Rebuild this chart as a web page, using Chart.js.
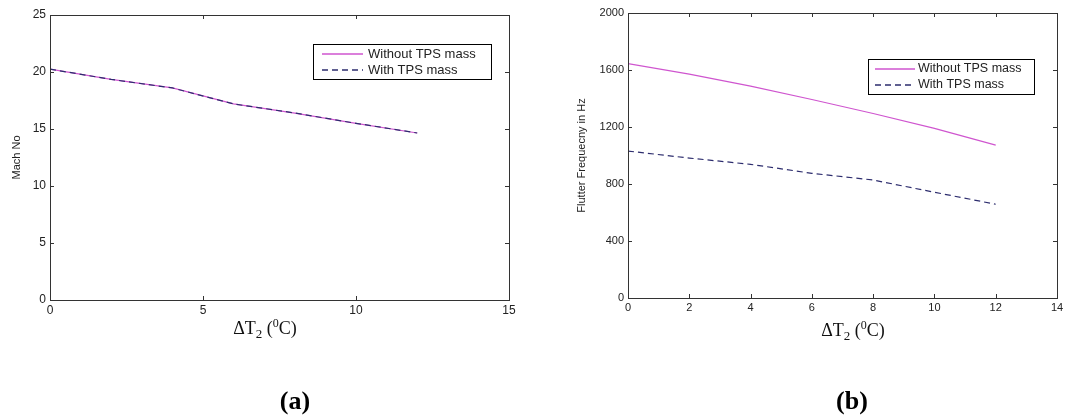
<!DOCTYPE html>
<html>
<head>
<meta charset="utf-8">
<script src="https://cdn.jsdelivr.net/npm/chart.js@4.4.1/dist/chart.umd.min.js"></script>
<style>
  body { margin: 0; background: #fff; width: 1087px; height: 418px; position: relative; overflow: hidden; }
  canvas { position: absolute; top: 0; }
  .xtitle { position: absolute; font-family: "Liberation Serif", "Times New Roman", serif; font-size: 18px; line-height: 20px; white-space: nowrap; transform: translateX(-50%); color: #111; }
  .xtitle .sub { font-size: 13px; position: relative; top: 4px; }
  .xtitle .sup { font-size: 12px; position: relative; top: -7px; }
  .caption { position: absolute; font-family: "Liberation Serif", "Times New Roman", serif; font-weight: bold; font-size: 26px; line-height: 30px; transform: translateX(-50%); color: #000; }
</style>
</head>
<body>
<canvas id="mach_graph" width="540" height="345" style="left:0px"></canvas>
<canvas id="freq_graph" width="547" height="345" style="left:540px"></canvas>
<div class="xtitle" style="left:265px; top:318px">&Delta;T<span class="sub">2</span> (<span class="sup">0</span>C)</div>
<div class="xtitle" style="left:853px; top:320px">&Delta;T<span class="sub">2</span> (<span class="sup">0</span>C)</div>
<div class="caption" style="left:295px; top:386px">(a)</div>
<div class="caption" style="left:852px; top:386px">(b)</div>
<script>
// temperature difference steps (deg C)
const deltaT = [0, 2, 4, 6, 8, 10, 12];

// (a) flutter Mach number
const machWithout = [20.25, 19.35, 18.6, 17.2, 16.4, 15.5, 14.65];
const machWith = [20.25, 19.35, 18.6, 17.2, 16.4, 15.5, 14.65];

// (b) flutter frequency in Hz
const freqWithout = [1645, 1571, 1487, 1393, 1295, 1190, 1073];
const freqWith = [1031, 982, 938, 875, 828, 742, 658];

const seriesNames = ['Without TPS mass', 'With TPS mass'];

const tickFont = { family: 'Liberation Sans, Arial, sans-serif', size: 12 };

// box around the plot with inward tick marks on all four sides
const frameTicks = {
  id: 'frameTicks',
  afterDatasetsDraw(chart) {
    const { ctx, chartArea: a, scales } = chart;
    ctx.save();
    ctx.strokeStyle = '#333';
    ctx.lineWidth = 1;
    ctx.strokeRect(a.left + 0.5, a.top + 0.5, a.right - a.left, a.bottom - a.top);
    ctx.beginPath();
    scales.x.ticks.forEach(t => {
      const px = Math.round(scales.x.getPixelForValue(t.value)) + 0.5;
      ctx.moveTo(px, a.bottom); ctx.lineTo(px, a.bottom - 4);
      ctx.moveTo(px, a.top); ctx.lineTo(px, a.top + 4);
    });
    scales.y.ticks.forEach(t => {
      const py = Math.round(scales.y.getPixelForValue(t.value)) + 0.5;
      ctx.moveTo(a.left, py); ctx.lineTo(a.left + 4, py);
      ctx.moveTo(a.right, py); ctx.lineTo(a.right - 4, py);
    });
    ctx.stroke();
    ctx.restore();
  }
};

// boxed legend sitting inside the top right of the plot
const boxLegend = {
  id: 'boxLegend',
  afterDraw(chart, args, o) {
    const { ctx, chartArea } = chart;
    const x = Math.round(chartArea.right - o.right - o.width);
    const y = Math.round(chartArea.top + o.top);
    ctx.save();
    ctx.fillStyle = '#fff';
    ctx.fillRect(x, y, o.width, o.height);
    ctx.strokeStyle = '#000';
    ctx.lineWidth = 1;
    ctx.strokeRect(x + 0.5, y + 0.5, o.width, o.height);
    chart.data.datasets.forEach((ds, i) => {
      const ly = y + o.rowTop + i * o.rowGap;
      ctx.strokeStyle = ds.borderColor;
      ctx.lineWidth = 1.3;
      ctx.setLineDash(ds.borderDash || []);
      ctx.beginPath();
      ctx.moveTo(x + o.lineStart, ly);
      ctx.lineTo(x + o.lineStart + o.lineLen, ly);
      ctx.stroke();
      ctx.setLineDash([]);
      ctx.fillStyle = '#222';
      ctx.font = o.font;
      ctx.textBaseline = 'middle';
      ctx.fillText(ds.label, x + o.textStart, ly);
    });
    ctx.restore();
  }
};

function makeDatasets(without, withMass) {
  return [{
    label: seriesNames[0],
    data: deltaT.map((t, i) => ({ x: t, y: without[i] })),
    borderColor: '#cf55cf',
    borderWidth: 1.2,
    pointRadius: 0,
    tension: 0,
    order: 1
  }, {
    label: seriesNames[1],
    data: deltaT.map((t, i) => ({ x: t, y: withMass[i] })),
    borderColor: '#2d2d6e',
    borderDash: [6, 4],
    borderWidth: 1.2,
    pointRadius: 0,
    tension: 0,
    order: 0
  }];
}

function makeChart(id, cfg) {
  const ctx = document.getElementById(id).getContext('2d');
  return new Chart(ctx, {
    type: 'line',
    data: { datasets: makeDatasets(cfg.without, cfg.withMass) },
    options: {
      responsive: false,
      animation: false,
      layout: { padding: { top: cfg.padTop, right: cfg.padRight, left: 0, bottom: 0 } },
      plugins: {
        legend: { display: false },
        tooltip: { enabled: false },
        boxLegend: cfg.legend
      },
      scales: {
        x: {
          type: 'linear',
          min: cfg.xMin, max: cfg.xMax,
          grid: { display: false, drawTicks: false },
          border: { display: false },
          ticks: { stepSize: cfg.xStep, padding: 3, color: '#222', font: { ...tickFont, size: cfg.tickSize },
                   callback: v => String(v) },
          afterFit(scale) { scale.height = cfg.xHeight; }
        },
        y: {
          min: cfg.yMin, max: cfg.yMax,
          grid: { display: false, drawTicks: false },
          border: { display: false },
          ticks: { stepSize: cfg.yStep, padding: 4, color: '#222', font: { ...tickFont, size: cfg.tickSize },
                   callback: v => String(v) },
          title: {
            display: true,
            text: cfg.yTitle,
            color: '#222',
            font: { family: 'Liberation Sans, Arial, sans-serif', size: 11 },
            padding: { top: cfg.titlePad, bottom: 0 }
          },
          afterFit(scale) { scale.width = cfg.yWidth; }
        }
      }
    },
    plugins: [frameTicks, boxLegend]
  });
}

makeChart('mach_graph', {
  without: machWithout, withMass: machWith,
  xMin: 0, xMax: 15, xStep: 5,
  yMin: 0, yMax: 25, yStep: 5,
  yTitle: 'Mach No',
  padTop: 15, padRight: 31, yWidth: 50, xHeight: 45, titlePad: 10, tickSize: 12,
  legend: { right: 18, top: 29, width: 178, height: 35, rowTop: 10, rowGap: 16,
            lineStart: 9, lineLen: 41, textStart: 55, font: '13px "Liberation Sans", Arial, sans-serif' }
});

makeChart('freq_graph', {
  without: freqWithout, withMass: freqWith,
  xMin: 0, xMax: 14, xStep: 2,
  yMin: 0, yMax: 2000, yStep: 400,
  yTitle: 'Flutter Frequecny in Hz',
  padTop: 13, padRight: 30, yWidth: 88, xHeight: 47, titlePad: 35, tickSize: 11,
  legend: { right: 23, top: 46, width: 166, height: 35, rowTop: 10, rowGap: 16,
            lineStart: 7, lineLen: 40, textStart: 50, font: '12.5px "Liberation Sans", Arial, sans-serif' }
});
</script>
</body>
</html>
